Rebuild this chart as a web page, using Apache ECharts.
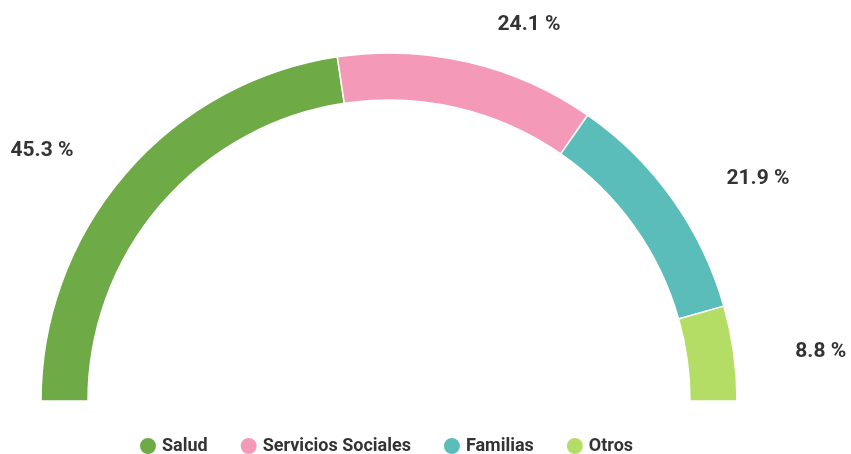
<!DOCTYPE html>
<html>
<head>
<meta charset="utf-8">
<script src="https://cdn.jsdelivr.net/npm/echarts@6/dist/echarts.min.js"></script>
<style>
  html, body { margin: 0; padding: 0; background: #fff; }
  #chart { width: 851px; height: 454px; }
</style>
</head>
<body>
<div id="chart"></div>
<script>
const categories = ['Salud', 'Servicios Sociales', 'Familias', 'Otros'];
const shares = [45.3, 24.1, 21.9, 8.8];
const colors = ['#6eaa45', '#f599b9', '#5bbdb9', '#b3dd65'];

const chart = echarts.init(document.getElementById('chart'));

chart.setOption({
  textStyle: { fontFamily: 'Roboto' },
  color: colors,
  legend: {
    top: 431,
    left: 133,
    icon: 'circle',
    itemWidth: 18,
    itemHeight: 18,
    itemGap: 31,
    textStyle: { color: '#333', fontSize: 18, fontWeight: 'bold', fontFamily: 'Roboto' },
    data: categories
  },
  series: [
    {
      type: 'pie',
      center: [389, 401],
      radius: [301, 348],
      startAngle: 180,
      endAngle: 0,
      clockwise: true,
      silent: true,
      avoidLabelOverlap: false,
      itemStyle: { borderColor: '#fff', borderWidth: 1.5 },
      label: {
        position: 'outside',
        formatter: (p) => p.value.toFixed(1) + ' %',
        color: '#333',
        fontSize: 21,
        fontWeight: 'bold',
        fontFamily: 'Roboto'
      },
      labelLayout: { dy: 4 },
      labelLine: { show: false, length: 42, length2: 15 },
      data: categories.map((name, i) => ({ name, value: shares[i] }))
    }
  ]
});
</script>
</body>
</html>
